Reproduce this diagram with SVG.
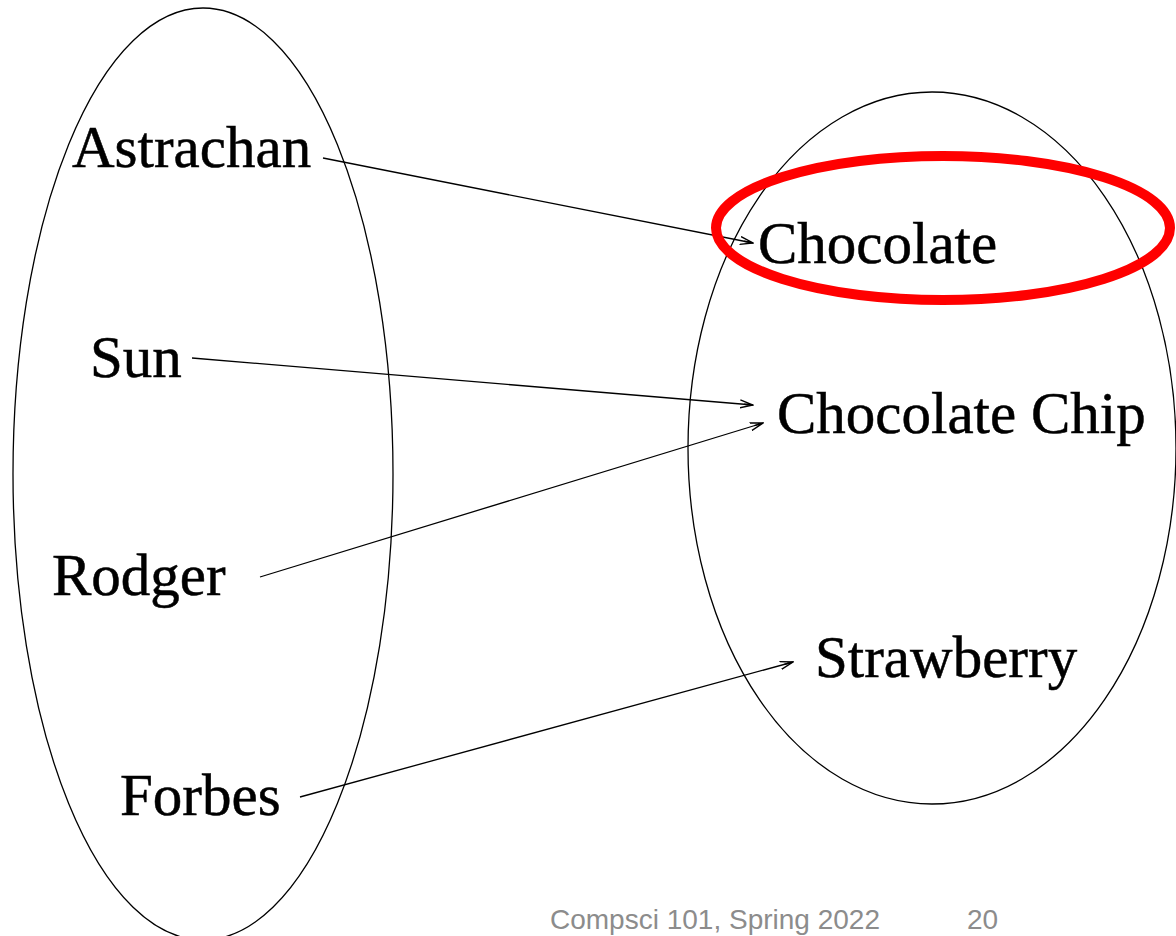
<svg xmlns="http://www.w3.org/2000/svg" width="1176" height="936" viewBox="0 0 1176 936">
<style>
.lbl{font-family:"Liberation Serif","Times New Roman",serif;font-size:59px;fill:#000;stroke:#000;stroke-width:0.5}
.set{fill:none;stroke:#000;stroke-width:1.3}
.edge{fill:none;stroke:#000;stroke-width:1.3}
.foot{font-family:"Liberation Sans",Arial,sans-serif;font-size:28px;fill:#8c8c8c}
</style>
<defs>
<marker id="arr" viewBox="0 0 14 10" refX="13" refY="5" markerWidth="14" markerHeight="10" markerUnits="userSpaceOnUse" orient="auto">
<path d="M0,1 L13,5 L0,9 M4,5 L13,5" fill="none" stroke="#000" stroke-width="1.4"/>
</marker>
</defs>
<rect width="1176" height="936" fill="#fff"/>
<g id="setA"><ellipse class="set" cx="203" cy="474" rx="190" ry="466"/></g>
<g id="setB"><ellipse class="set" cx="932" cy="448" rx="244" ry="356"/></g>
<g id="connectors">
<line class="edge" x1="323" y1="158" x2="753" y2="243" marker-end="url(#arr)"/>
<line class="edge" x1="192" y1="358" x2="753" y2="405" marker-end="url(#arr)"/>
<line class="edge" x1="260" y1="577" x2="763" y2="423" marker-end="url(#arr)"/>
<line class="edge" x1="300" y1="797" x2="793" y2="662" marker-end="url(#arr)"/>
</g>
<g id="astrachan"><text class="lbl" x="72" y="167">Astrachan</text></g>
<g id="sun"><text class="lbl" x="90" y="377">Sun</text></g>
<g id="rodger"><text class="lbl" x="52" y="595">Rodger</text></g>
<g id="forbes"><text class="lbl" x="120" y="815">Forbes</text></g>
<g id="chocolate"><text class="lbl" x="758" y="263">Chocolate</text></g>
<g id="chocolatechip"><text class="lbl" x="777" y="433">Chocolate Chip</text></g>
<g id="strawberry"><text class="lbl" x="815" y="677">Strawberry</text></g>
<g id="highlight"><ellipse cx="943" cy="228" rx="227" ry="72" fill="none" stroke="#ff0000" stroke-width="10"/></g>
<g id="footer">
<text class="foot" x="550" y="929">Compsci 101, Spring 2022</text>
<text class="foot" x="967" y="929">20</text>
</g>
</svg>
